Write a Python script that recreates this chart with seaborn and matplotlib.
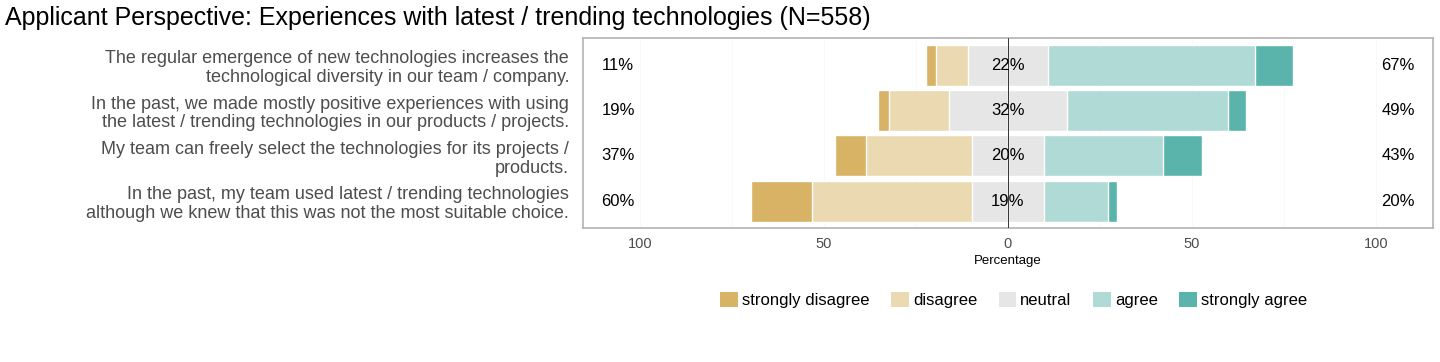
import numpy as np
import pandas as pd
import matplotlib
matplotlib.use("Agg")
import matplotlib.pyplot as plt
from matplotlib.patches import Patch
import seaborn as sns

# Items (top to bottom) and answer shares in percent
items = [
    "The regular emergence of new technologies increases the\ntechnological diversity in our team / company.",
    "In the past, we made mostly positive experiences with using\nthe latest / trending technologies in our products / projects.",
    "My team can freely select the technologies for its projects /\nproducts.",
    "In the past, my team used latest / trending technologies\nalthough we knew that this was not the most suitable choice.",
]
levels = ["strongly disagree", "disagree", "neutral", "agree", "strongly agree"]
strongly_disagree = [2.7, 2.8, 8.5, 16.6]
disagree = [8.6, 16.4, 28.6, 43.6]
neutral = [21.9, 32.1, 19.8, 19.3]
agree = [56.2, 43.8, 32.2, 17.6]
strongly_agree = [10.4, 4.9, 10.7, 2.5]

low_labels = ["11%", "19%", "37%", "60%"]
mid_labels = ["22%", "32%", "20%", "19%"]
high_labels = ["67%", "49%", "43%", "20%"]

colors = ["#D8B365", "#EBD9B2", "#E6E6E6", "#AFDAD6", "#5AB4AC"]

sns.set_theme(style="white")
plt.rcParams["font.family"] = ["Liberation Sans", "DejaVu Sans"]

df = pd.DataFrame({
    "item": items,
    "sd": strongly_disagree,
    "d": disagree,
    "n": neutral,
    "a": agree,
    "sa": strongly_agree,
})
half_n = df["n"] / 2
# cumulative ends of each segment, drawn from the largest to the smallest
segments = [
    (-(half_n + df["d"] + df["sd"]), colors[0]),
    (-(half_n + df["d"]), colors[1]),
    (half_n + df["a"] + df["sa"], colors[4]),
    (half_n + df["a"], colors[3]),
    (-half_n, colors[2]),
    (half_n, colors[2]),
]

fig = plt.figure(figsize=(14.4, 3.62), dpi=100)
ax = fig.add_axes([0.4049, 0.369, 0.5902, 0.526])

for ends, col in segments:
    sns.barplot(x=ends, y=df["item"], orient="h", color=col, width=0.9,
                saturation=1, ax=ax, zorder=2)

ax.set_xlim(-115.5, 115.5)
ax.set_ylim(3.6, -0.6)
ax.set_xticks([-100, -50, 0, 50, 100])
ax.set_xticklabels(["100", "50", "0", "50", "100"], fontsize=10.5, color="#4D4D4D")
ax.set_xticks([-75, -25, 25, 75], minor=True)
ax.grid(True, which="both", axis="x", color="#F7F7F7", lw=0.6, zorder=0)
ax.tick_params(axis="x", length=0, pad=6)
ax.tick_params(axis="y", length=0, pad=10)
ax.set_yticks(range(len(items)))
ax.set_yticklabels(items, fontsize=13, color="#4D4D4D", linespacing=1.15)
ax.axvline(0, color="#333333", lw=0.7, zorder=4)
ax.set_xlabel("Percentage", fontsize=9.5, color="black", labelpad=3)
ax.set_ylabel("")
for s in ax.spines.values():
    s.set_color("#B3B3B3")
    s.set_linewidth(1.2)

for i in range(len(items)):
    ax.text(-106, i, low_labels[i], ha="center", va="center", fontsize=12, color="black", zorder=5)
    ax.text(0, i, mid_labels[i], ha="center", va="center", fontsize=12, color="black", zorder=5)
    ax.text(106, i, high_labels[i], ha="center", va="center", fontsize=12, color="black", zorder=5)

fig.text(0.0035, 0.95, "Applicant Perspective: Experiences with latest / trending technologies (N=558)",
         fontsize=18, ha="left", va="center", color="black")

handles = [Patch(facecolor=c, edgecolor="none") for c in colors]
fig.legend(handles, levels, loc="center", bbox_to_anchor=(0.704, 0.171), ncol=5,
           frameon=False, fontsize=12, handlelength=1.05, handleheight=1.05,
           handletextpad=0.25, columnspacing=1.3, labelcolor="black")

fig.savefig("out.png", dpi=100)
